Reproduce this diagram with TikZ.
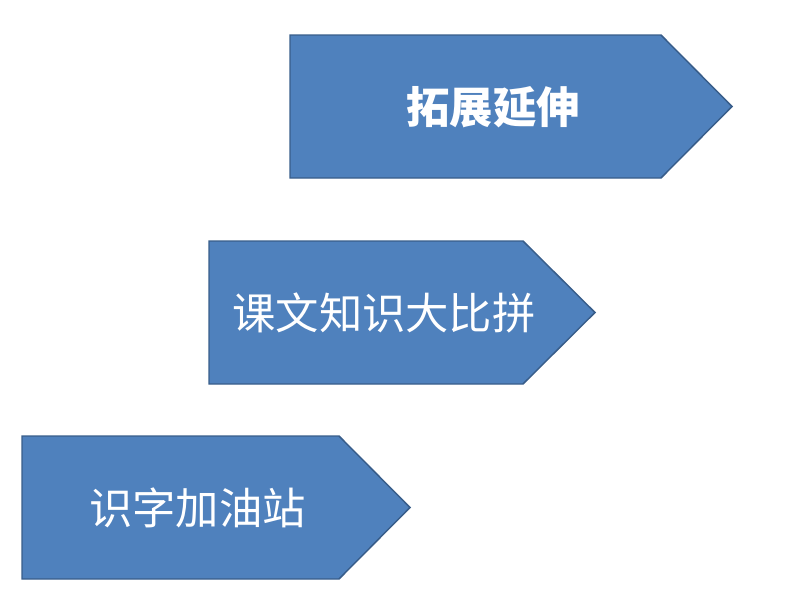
\documentclass[tikz,border=0pt]{standalone}
\usepackage{fontspec}
\newfontfamily\cjk{Noto Sans CJK SC}
\definecolor{arrowfill}{HTML}{4F81BD}
\definecolor{arrowline}{HTML}{385D8A}
\begin{document}
\begin{tikzpicture}[x=0.75pt,y=-0.75pt,
  pentarrow/.style={fill=arrowfill,draw=arrowline,line width=1.1pt,line join=miter},
  label/.style={text=white,font=\cjk\fontsize{32.5}{38}\selectfont,inner sep=0pt,anchor=center}]
\useasboundingbox (0,0) rectangle (794,596);
\draw[pentarrow] (290,35) -- (661,35) -- (732,106.5) -- (661,178) -- (290,178) -- cycle;
\draw[pentarrow] (209,241) -- (523,241) -- (595,312.5) -- (523,384) -- (209,384) -- cycle;
\draw[pentarrow] (22,436) -- (339,436) -- (410,507.5) -- (339,579) -- (22,579) -- cycle;
\node[label,font=\cjk\bfseries\fontsize{32.5}{38}\selectfont] (t1) at (493,107) {拓展延伸};
\node[label] (t2) at (384,313) {课文知识大比拼};
\node[label] (t3) at (197.5,508) {识字加油站};
\end{tikzpicture}
\end{document}
